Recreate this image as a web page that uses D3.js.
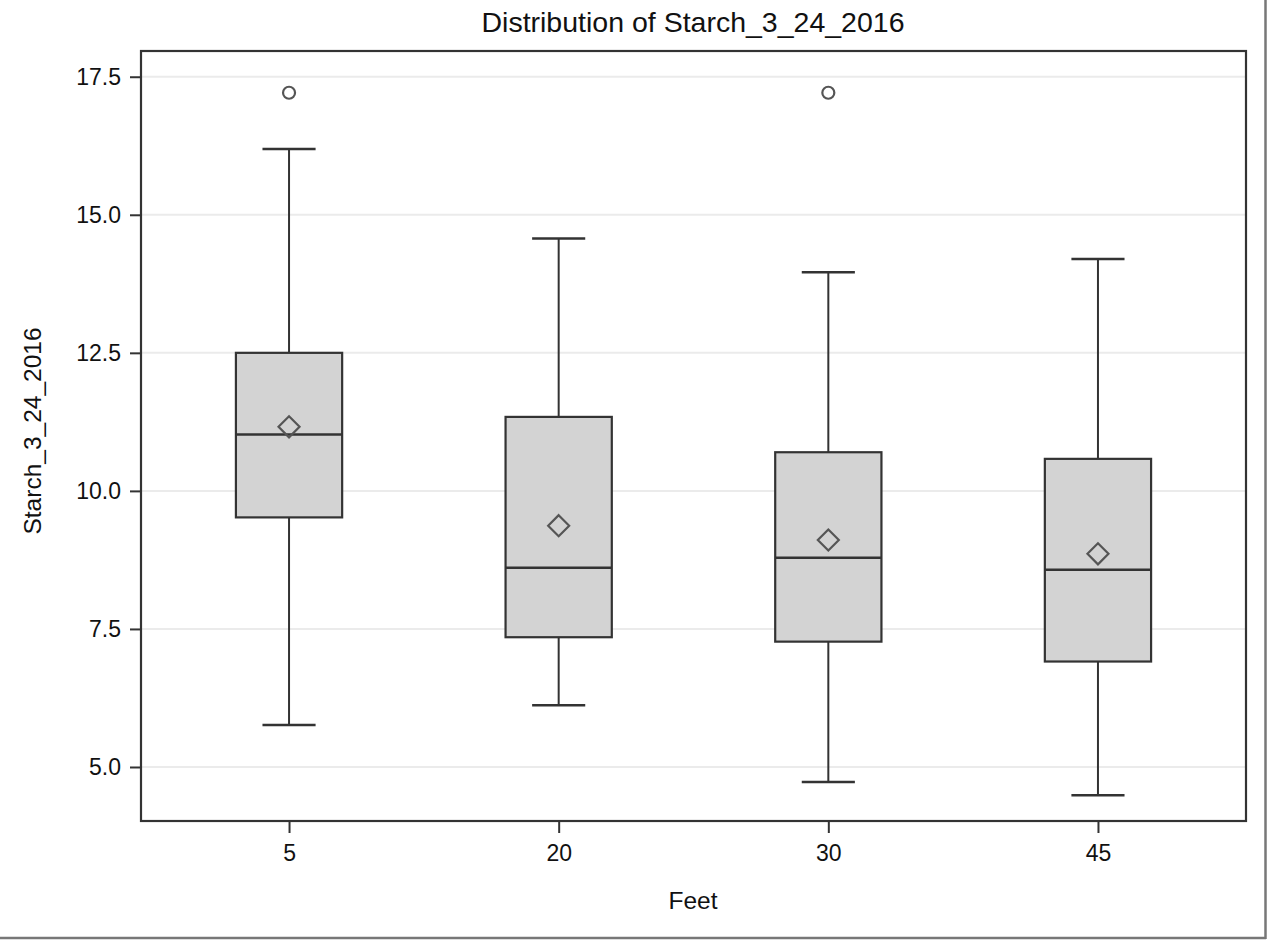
<!DOCTYPE html>
<html>
<head>
<meta charset="utf-8">
<script src="https://cdn.jsdelivr.net/npm/d3@7"></script>
<style>
  html, body { margin: 0; padding: 0; background: #fff; }
  svg { display: block; font-family: "Liberation Sans", Arial, sans-serif; }
</style>
</head>
<body>
<svg id="chart" width="1268" height="940"></svg>
<script>
// ---- data ----
const categories   = ["5", "20", "30", "45"];
const whiskerLow   = [5.76, 6.12, 4.73, 4.49];
const q1           = [9.52, 7.35, 7.27, 6.91];
const median       = [11.02, 8.61, 8.79, 8.57];
const q3           = [12.50, 11.34, 10.70, 10.58];
const whiskerHigh  = [16.19, 14.57, 13.96, 14.20];
const meanValues   = [11.16, 9.37, 9.11, 8.86];
const outlierCats  = ["5", "30"];
const outlierVals  = [17.21, 17.21];
const yTickValues  = [5.0, 7.5, 10.0, 12.5, 15.0, 17.5];

const titleText = "Distribution of Starch_3_24_2016";
const xLabel = "Feet";
const yLabel = "Starch_3_24_2016";

// ---- layout ----
const W = 1268, H = 940;
const plot = { left: 141, right: 1246, top: 51, bottom: 821 };
const svg = d3.select("#chart");
const dark = "#333";

const x = d3.scalePoint().domain(categories)
  .range([plot.left, plot.right]).padding(0.549);
const y = d3.scaleLinear().domain([4.022, 17.966])
  .range([plot.bottom, plot.top]);
const boxW = x.step() * 0.394;

// outer frame (shadow lines)
svg.append("line").attr("x1", 0).attr("x2", 1266).attr("y1", 938).attr("y2", 938)
  .attr("stroke", "#777").attr("stroke-width", 2.5);
svg.append("line").attr("x1", 1265.5).attr("x2", 1265.5).attr("y1", 0).attr("y2", 939)
  .attr("stroke", "#777").attr("stroke-width", 2.5);

// gridlines
svg.append("g").selectAll("line").data(yTickValues).join("line")
  .attr("x1", plot.left).attr("x2", plot.right)
  .attr("y1", d => y(d)).attr("y2", d => y(d))
  .attr("stroke", "#ebebeb").attr("stroke-width", 2);

// boxes
const data = categories.map((c, i) => ({
  c, lo: whiskerLow[i], q1: q1[i], med: median[i], q3: q3[i], hi: whiskerHigh[i], mean: meanValues[i]
}));
const g = svg.append("g");
const bx = g.selectAll("g.box").data(data).join("g").attr("class", "box");

// whiskers
bx.append("line").attr("x1", d => x(d.c)).attr("x2", d => x(d.c))
  .attr("y1", d => y(d.q3)).attr("y2", d => y(d.hi))
  .attr("stroke", dark).attr("stroke-width", 2);
bx.append("line").attr("x1", d => x(d.c)).attr("x2", d => x(d.c))
  .attr("y1", d => y(d.q1)).attr("y2", d => y(d.lo))
  .attr("stroke", dark).attr("stroke-width", 2);
// caps
bx.append("line").attr("x1", d => x(d.c) - boxW / 4).attr("x2", d => x(d.c) + boxW / 4)
  .attr("y1", d => y(d.hi)).attr("y2", d => y(d.hi))
  .attr("stroke", dark).attr("stroke-width", 2.5);
bx.append("line").attr("x1", d => x(d.c) - boxW / 4).attr("x2", d => x(d.c) + boxW / 4)
  .attr("y1", d => y(d.lo)).attr("y2", d => y(d.lo))
  .attr("stroke", dark).attr("stroke-width", 2.5);
// box rect
bx.append("rect").attr("x", d => x(d.c) - boxW / 2).attr("width", boxW)
  .attr("y", d => y(d.q3)).attr("height", d => y(d.q1) - y(d.q3))
  .attr("fill", "#d3d3d3").attr("stroke", dark).attr("stroke-width", 2.2);
// median
bx.append("line").attr("x1", d => x(d.c) - boxW / 2).attr("x2", d => x(d.c) + boxW / 2)
  .attr("y1", d => y(d.med)).attr("y2", d => y(d.med))
  .attr("stroke", dark).attr("stroke-width", 2.5);
// mean diamond
const ds = 10.5;
bx.append("path")
  .attr("d", d => {
    const cx = x(d.c), cy = y(d.mean);
    return `M${cx},${cy - ds}L${cx + ds},${cy}L${cx},${cy + ds}L${cx - ds},${cy}Z`;
  })
  .attr("fill", "none").attr("stroke", "#555").attr("stroke-width", 2.2);

// outliers
g.selectAll("circle.out").data(outlierCats.map((c, i) => ({ c, v: outlierVals[i] })))
  .join("circle").attr("class", "out")
  .attr("cx", d => x(d.c)).attr("cy", d => y(d.v)).attr("r", 6)
  .attr("fill", "#fff").attr("stroke", "#555").attr("stroke-width", 2.2);

// axes
const yAxis = d3.axisLeft(y).tickValues(yTickValues).tickFormat(d3.format(".1f"))
  .tickSize(11).tickPadding(9);
const ya = svg.append("g").attr("transform", `translate(${plot.left},0)`).call(yAxis);
ya.select(".domain").remove();
ya.selectAll(".tick line").attr("stroke", dark).attr("stroke-width", 2);
ya.selectAll(".tick text").attr("font-size", 23).attr("fill", "#111")
  .attr("font-family", "'Liberation Sans', Arial, sans-serif");

const xAxis = d3.axisBottom(x).tickSize(12).tickPadding(12);
const xa = svg.append("g").attr("transform", `translate(0,${plot.bottom})`).call(xAxis);
xa.select(".domain").remove();
xa.selectAll(".tick line").attr("stroke", dark).attr("stroke-width", 2);
xa.selectAll(".tick text").attr("font-size", 23).attr("fill", "#111")
  .attr("font-family", "'Liberation Sans', Arial, sans-serif");

// plot frame
svg.append("rect").attr("x", plot.left).attr("y", plot.top)
  .attr("width", plot.right - plot.left).attr("height", plot.bottom - plot.top)
  .attr("fill", "none").attr("stroke", dark).attr("stroke-width", 2.2);

// titles
svg.append("text").attr("x", 693).attr("y", 32).attr("text-anchor", "middle")
  .attr("font-size", 28.5).attr("fill", "#111").text(titleText);
svg.append("text").attr("x", 693).attr("y", 909).attr("text-anchor", "middle")
  .attr("font-size", 24.5).attr("fill", "#111").text(xLabel);
svg.append("text").attr("transform", "translate(41,431) rotate(-90)")
  .attr("text-anchor", "middle").attr("font-size", 24.5).attr("fill", "#111").text(yLabel);
</script>
</body>
</html>
